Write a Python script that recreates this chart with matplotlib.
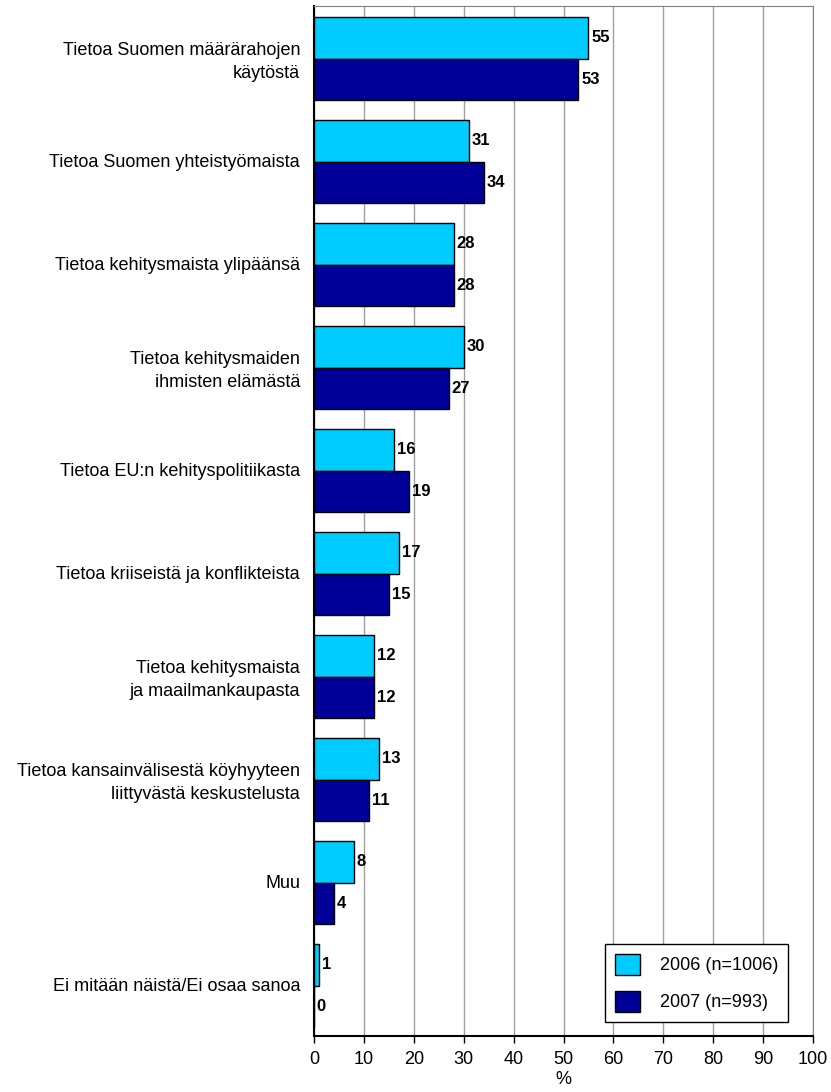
import numpy as np
import matplotlib.pyplot as plt

plt.rcParams['font.family'] = ['Liberation Sans', 'DejaVu Sans']

categories = ['Tietoa Suomen määrärahojen\nkäytöstä',
              'Tietoa Suomen yhteistyömaista',
              'Tietoa kehitysmaista ylipäänsä',
              'Tietoa kehitysmaiden\nihmisten elämästä',
              'Tietoa EU:n kehityspolitiikasta',
              'Tietoa kriiseistä ja konflikteista',
              'Tietoa kehitysmaista\nja maailmankaupasta',
              'Tietoa kansainvälisestä köyhyyteen\nliittyvästä keskustelusta',
              'Muu',
              'Ei mitään näistä/Ei osaa sanoa']
vals_2006 = [55, 31, 28, 30, 16, 17, 12, 13, 8, 1]
vals_2007 = [53, 34, 28, 27, 19, 15, 12, 11, 4, 0]
series_names = ['2006 (n=1006)', '2007 (n=993)']
xticks = list(range(0, 101, 10))

fig = plt.figure(figsize=(8.31, 10.92), dpi=100)
ax = fig.add_axes([314/831, 1 - 1036/1092, 499/831, 1030/1092])

y = np.arange(len(categories))
h = 0.4
b1 = ax.barh(y - h/2 + 0.01, vals_2006, height=h, color='#00CCFF', edgecolor='black',
             linewidth=1, label=series_names[0], zorder=3)
b2 = ax.barh(y + h/2 + 0.01, vals_2007, height=h, color='#000099', edgecolor='black',
             linewidth=1, label=series_names[1], zorder=3)

for bars, vals in [(b1, vals_2006), (b2, vals_2007)]:
    for rect, v in zip(bars, vals):
        ax.annotate(str(v), (rect.get_width(), rect.get_y() + rect.get_height()/2),
                    xytext=(2, 0), textcoords='offset points', va='center',
                    ha='left', fontsize=12, fontweight='bold')

ax.set_ylim(len(categories) - 0.5, -0.5)
ax.set_xlim(0, 100)
ax.set_xticks(xticks)
ax.tick_params(axis='x', labelsize=13, length=5, width=1, direction='out', pad=6)
ax.set_yticks(y)
ax.set_yticklabels(categories, fontsize=13, linespacing=1.4)
ax.tick_params(axis='y', length=0, pad=10)
ax.grid(axis='x', color='#a0a0a0', linewidth=1, zorder=0)
ax.set_xlabel('%', fontsize=13, labelpad=2)

for s in ['top', 'right']:
    ax.spines[s].set_color('#808080')
ax.spines['left'].set_linewidth(1.5)
ax.spines['bottom'].set_linewidth(1.5)

leg = ax.legend(loc='lower right', bbox_to_anchor=(0.95, 0.014), fontsize=13,
                frameon=True, fancybox=False, edgecolor='black', framealpha=1,
                handlelength=1.4, handleheight=1.4, labelspacing=0.9,
                borderpad=0.55, handletextpad=1.1, borderaxespad=0)
leg.get_frame().set_linewidth(1)

fig.savefig('out.png', dpi=100)
